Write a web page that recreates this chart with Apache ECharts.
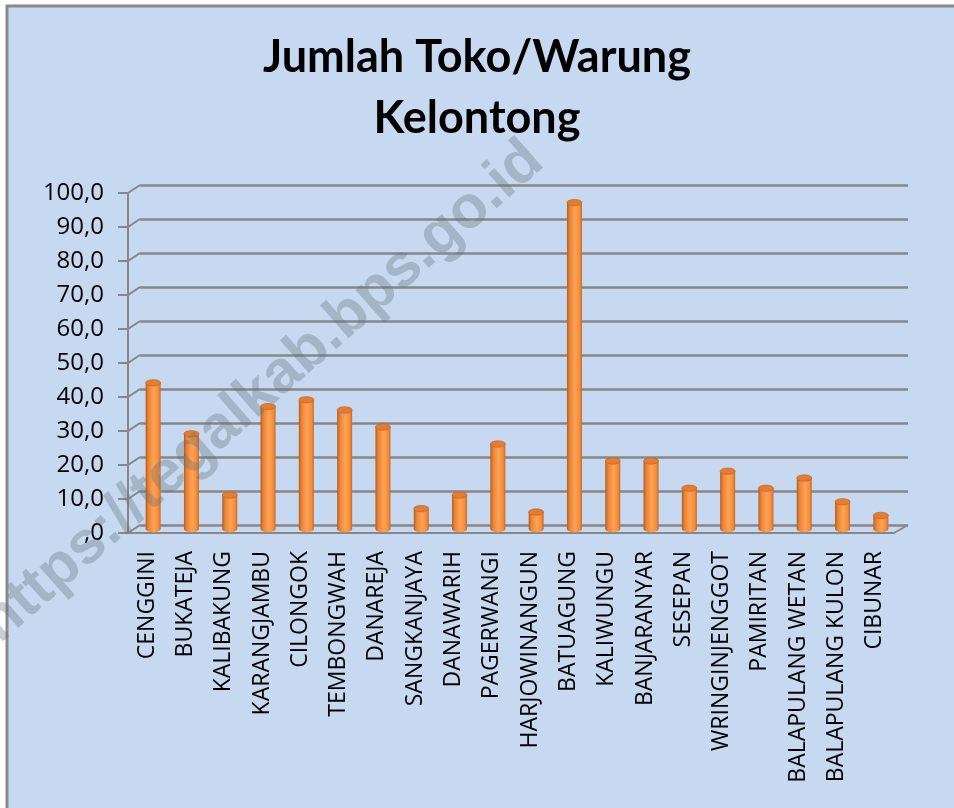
<!DOCTYPE html>
<html>
<head>
<meta charset="utf-8">
<script src="https://cdn.jsdelivr.net/npm/echarts@6/dist/echarts.min.js"></script>
<style>
html,body{margin:0;padding:0;background:#fff}
#chart{width:954px;height:808px}
</style>
</head>
<body>
<div id="chart"></div>
<script>
// data
var desa = ['CENGGINI', 'BUKATEJA', 'KALIBAKUNG', 'KARANGJAMBU', 'CILONGOK', 'TEMBONGWAH', 'DANAREJA',
  'SANGKANJAYA', 'DANAWARIH', 'PAGERWANGI', 'HARJOWINANGUN', 'BATUAGUNG', 'KALIWUNGU', 'BANJARANYAR',
  'SESEPAN', 'WRINGINJENGGOT', 'PAMIRITAN', 'BALAPULANG WETAN', 'BALAPULANG KULON', 'CIBUNAR'];
var jumlah = [43, 28, 10, 36, 38, 35, 30, 6, 10, 25, 5, 96, 20, 20, 12, 17, 12, 15, 8, 4];
var yTicks = [0, 10, 20, 30, 40, 50, 60, 70, 80, 90, 100];

(function () {
  var myChart = echarts.init(document.getElementById('chart'));
  var gris = '#878787';
  var fontAxis = '"Open Sans", sans-serif';

  // badan silinder
  var bodyColor = new echarts.graphic.LinearGradient(0, 0, 1, 0, [
    {offset: 0, color: '#B45B1A'},
    {offset: 0.18, color: '#E8833A'},
    {offset: 0.55, color: '#FFA352'},
    {offset: 0.85, color: '#F38C3D'},
    {offset: 1, color: '#C66824'}
  ]);

  var option = {
    backgroundColor: '#fff',
    graphic: [
      {
        type: 'rect', z: -10,
        shape: {x: 7, y: 6, width: 1000, height: 900},
        style: {fill: '#C6D9F1', stroke: '#8A8A8A', lineWidth: 3}
      },
      {
        type: 'text', z: 100,
        x: 262, y: 392,
        rotation: 0.72,
        style: {
          text: 'https://tegalkab.bps.go.id',
          font: 'bold 60px "Liberation Sans", Arial, sans-serif',
          fill: 'rgba(100,110,120,0.34)',
          align: 'center',
          verticalAlign: 'middle'
        }
      }
    ],
    title: {
      text: 'Jumlah Toko/Warung\nKelontong',
      left: 'center',
      top: 22,
      textStyle: {
        fontFamily: 'Lato, "Open Sans", sans-serif',
        fontWeight: 'bold',
        fontSize: 45,
        lineHeight: 61,
        color: '#000'
      }
    },
    grid: [
      {left: 128, top: 193, width: 766, height: 340},  // depan
      {left: 140, top: 185, width: 768, height: 340},  // dinding belakang
      {left: 134, top: 189, width: 766, height: 340}   // batang
    ],
    xAxis: [
      {
        gridIndex: 0,
        type: 'category',
        data: desa,
        axisLine: {lineStyle: {color: gris, width: 2}},
        axisTick: {length: 7, lineStyle: {color: gris, width: 2}},
        axisLabel: {
          interval: 0,
          rotate: 90,
          margin: 18,
          color: '#000',
          fontSize: 23,
          fontFamily: fontAxis
        }
      },
      {gridIndex: 1, type: 'category', data: desa, show: false},
      {gridIndex: 2, type: 'category', data: desa, show: false}
    ],
    yAxis: [
      {
        gridIndex: 0,
        type: 'value',
        min: 0, max: 100, interval: 10,
        axisLine: {show: true, lineStyle: {color: gris, width: 2}},
        axisTick: {show: true, length: 10, lineStyle: {color: gris, width: 2}},
        splitLine: {show: false},
        axisLabel: {
          margin: 24,
          color: '#000',
          fontSize: 24,
          fontFamily: fontAxis,
          formatter: function (v) {
            return v === 0 ? ',0' : v.toFixed(1).replace('.', ',');
          }
        }
      },
      {
        gridIndex: 1,
        type: 'value',
        min: 0, max: 100, interval: 10,
        axisLine: {show: false},
        axisTick: {show: false},
        axisLabel: {show: false},
        splitLine: {lineStyle: {color: gris, width: 2.5}}
      },
      {gridIndex: 2, type: 'value', min: 0, max: 100, show: false}
    ],
    series: [
      {
        // garis miring dari sumbu depan ke dinding belakang
        type: 'custom',
        xAxisIndex: 0,
        yAxisIndex: 0,
        silent: true,
        clip: false,
        data: yTicks.map(function (v) { return [0, v]; }),
        renderItem: function (params, api) {
          var p = api.coord([0, api.value(1)]);
          var half = api.size([1, 0])[0] / 2;
          var x0 = p[0] - half;
          var kids = [{
            type: 'line',
            shape: {x1: x0, y1: p[1], x2: x0 + 12, y2: p[1] - 8},
            style: {stroke: gris, lineWidth: 2}
          }];
          if (api.value(1) === 0) {
            var q = api.coord([desa.length - 1, 0]);
            var x1 = q[0] + half;
            kids.push({
              type: 'line',
              shape: {x1: x1, y1: q[1], x2: x1 + 14, y2: q[1] - 8},
              style: {stroke: gris, lineWidth: 2}
            });
          }
          return {type: 'group', children: kids};
        }
      },
      {
        name: 'Jumlah',
        type: 'custom',
        xAxisIndex: 2,
        yAxisIndex: 2,
        data: jumlah.map(function (v, i) { return [i, v]; }),
        renderItem: function (params, api) {
          var top = api.coord([api.value(0), api.value(1)]);
          var base = api.coord([api.value(0), 0]);
          var w = 15;
          var r = w / 2;
          return {
            type: 'group',
            children: [
              {
                type: 'circle',
                x: top[0], y: base[1], scaleY: 0.42,
                shape: {cx: 0, cy: 0, r: r},
                style: {fill: bodyColor}
              },
              {
                type: 'rect',
                shape: {x: top[0] - r, y: top[1], width: w, height: base[1] - top[1]},
                style: {fill: bodyColor}
              },
              {
                type: 'circle',
                x: top[0], y: top[1], scaleY: 0.42,
                shape: {cx: 0, cy: 0, r: r},
                style: {fill: '#E47D33', stroke: '#C4651F', lineWidth: 1}
              }
            ]
          };
        }
      }
    ]
  };

  myChart.setOption(option);
  window.addEventListener('resize', function () {
    myChart.resize();
  });
})();
</script>
</body>
</html>
